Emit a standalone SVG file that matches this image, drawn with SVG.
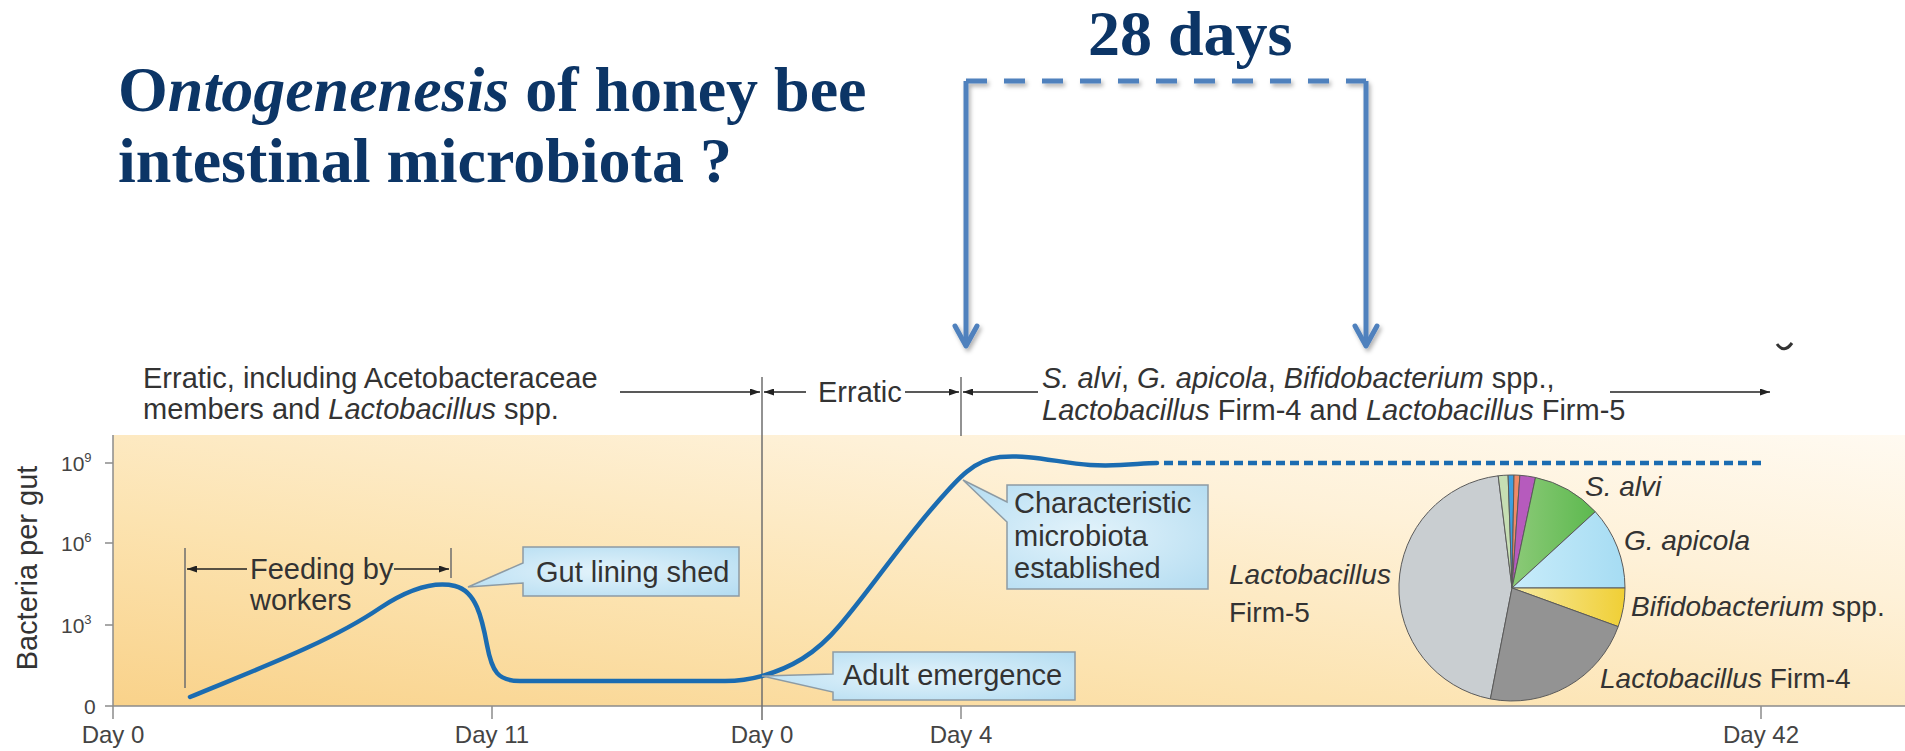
<svg xmlns="http://www.w3.org/2000/svg" width="1905" height="751" viewBox="0 0 1905 751">
<defs>
  <linearGradient id="bg" x1="0" y1="1" x2="1" y2="0">
    <stop offset="0" stop-color="#f9d28a"/>
    <stop offset="0.35" stop-color="#fce3b0"/>
    <stop offset="0.7" stop-color="#fef1d8"/>
    <stop offset="1" stop-color="#fffaf1"/>
  </linearGradient>
  <radialGradient id="callout" cx="0.5" cy="0.5" r="0.7">
    <stop offset="0" stop-color="#e3f3fb"/>
    <stop offset="1" stop-color="#b3dcf1"/>
  </radialGradient>
  <linearGradient id="yellow" x1="0" y1="0" x2="1" y2="0">
    <stop offset="0" stop-color="#f7eaa0"/>
    <stop offset="1" stop-color="#f0cf35"/>
  </linearGradient>
  <linearGradient id="lblue" x1="0" y1="0" x2="1" y2="0">
    <stop offset="0" stop-color="#c8ecfa"/>
    <stop offset="1" stop-color="#a6dcf3"/>
  </linearGradient>
  <linearGradient id="green" x1="0" y1="0" x2="1" y2="0">
    <stop offset="0" stop-color="#8cca78"/>
    <stop offset="1" stop-color="#5db94f"/>
  </linearGradient>
  <filter id="shadow" x="-10%" y="-10%" width="130%" height="130%">
    <feDropShadow dx="2" dy="3" stdDeviation="2" flood-color="#000" flood-opacity="0.3"/>
  </filter>
  <marker id="ah" viewBox="0 0 10 7" refX="10" refY="3.5" markerWidth="10" markerHeight="7" markerUnits="userSpaceOnUse" orient="auto">
    <path d="M0,0 L10,3.5 L0,7 Z" fill="#222"/>
  </marker>
  <marker id="chev" viewBox="-26 -15 30 30" refX="0" refY="0" markerWidth="30" markerHeight="30" markerUnits="userSpaceOnUse" orient="auto">
    <path d="M-20,-11 L0,0 L-20,11" fill="none" stroke="#4f81bd" stroke-width="5" stroke-linecap="round" stroke-linejoin="round"/>
  </marker>
  <style>
    .title{font-family:"Liberation Serif","Times New Roman",serif;font-weight:bold;font-size:64px;fill:#0c3566}
    .lbl{font-family:"Liberation Sans",Arial,sans-serif;font-size:29px;fill:#333}
    .pie{font-family:"Liberation Sans",Arial,sans-serif;font-size:28px;fill:#333}
    .tick{font-family:"Liberation Sans",Arial,sans-serif;font-size:24px;fill:#444}
    .ytick{font-family:"Liberation Sans",Arial,sans-serif;font-size:21px;fill:#444}
    .axis{stroke:#8c8c8c;stroke-width:1.5;fill:none}
    .vline{stroke:#6e6e6e;stroke-width:1.5;fill:none}
    .arr{stroke:#222;stroke-width:1.6;fill:none;marker-end:url(#ah)}
    .blue{stroke:#4f81bd;stroke-width:5;fill:none}
    .box{fill:url(#callout);stroke:#8d9ba4;stroke-width:1.5}
    .slice{stroke:#5a5a5a;stroke-width:1}
    .curve{stroke:#1b6cb1;stroke-width:4.5;fill:none;stroke-linecap:round;stroke-linejoin:round}
  </style>
</defs>

<rect width="1905" height="751" fill="#ffffff"/>

<g id="title">
  <text class="title" x="118" y="111">O<tspan font-style="italic">ntogenenesis</tspan> of honey bee</text>
  <text class="title" x="118" y="182">intestinal microbiota ?</text>
</g>

<g id="days-label">
  <text class="title" x="1088" y="55" font-size="62">28 days</text>
</g>

<g id="chart-bg">
  <rect x="113" y="435" width="1792" height="271" fill="url(#bg)"/>
</g>

<g id="axes">
  <path class="axis" d="M113,435 L113,706 L1905,706"/>
  <path class="axis" d="M105,463 L113,463 M105,543 L113,543 M105,625 L113,625 M105,706 L113,706"/>
  <path class="axis" d="M113,706 L113,719 M492,706 L492,719 M961,706 L961,719 M1761,706 L1761,719"/>
  <text class="ytick" x="61" y="471">10<tspan font-size="13" dy="-9">9</tspan></text>
  <text class="ytick" x="61" y="551">10<tspan font-size="13" dy="-9">6</tspan></text>
  <text class="ytick" x="61" y="633">10<tspan font-size="13" dy="-9">3</tspan></text>
  <text class="ytick" x="84" y="714">0</text>
  <text class="lbl" text-anchor="middle" transform="translate(37,568) rotate(-90)">Bacteria per gut</text>
  <text class="tick" x="113" y="743" text-anchor="middle">Day 0</text>
  <text class="tick" x="492" y="743" text-anchor="middle">Day 11</text>
  <text class="tick" x="762" y="743" text-anchor="middle">Day 0</text>
  <text class="tick" x="961" y="743" text-anchor="middle">Day 4</text>
  <text class="tick" x="1761" y="743" text-anchor="middle">Day 42</text>
</g>

<g id="phase-annotations">
  <path class="vline" d="M762,377 L762,720"/>
  <path class="vline" d="M961,377 L961,436"/>
  <text class="lbl" x="143" y="388">Erratic, including Acetobacteraceae</text>
  <text class="lbl" x="143" y="419">members and <tspan font-style="italic">Lactobacillus</tspan> spp.</text>
  <text class="lbl" x="818" y="402">Erratic</text>
  <text class="lbl" x="1042" y="388"><tspan font-style="italic">S. alvi</tspan>, <tspan font-style="italic">G. apicola</tspan>, <tspan font-style="italic">Bifidobacterium</tspan> spp.,</text>
  <text class="lbl" x="1042" y="420"><tspan font-style="italic">Lactobacillus</tspan> Firm-4 and <tspan font-style="italic">Lactobacillus</tspan> Firm-5</text>
  <path d="M1777,344 Q1784,354 1792,343" fill="none" stroke="#333" stroke-width="3"/>
</g>

<g id="feeding">
  <path class="vline" d="M185,548 L185,688 M451,548 L451,578"/>
  <text class="lbl" x="250" y="579">Feeding by</text>
  <text class="lbl" x="250" y="610">workers</text>
</g>

<g id="connectors">
  <path class="arr" d="M620,392 L760,392"/>
  <path class="arr" d="M806,392 L764,392"/>
  <path class="arr" d="M905,392 L959,392"/>
  <path class="arr" d="M1038,392 L963,392"/>
  <path class="arr" d="M1610,392 L1770,392"/>
  <path class="arr" d="M247,569 L187,569"/>
  <path class="arr" d="M394,569 L449,569"/>
  <g filter="url(#shadow)">
    <path class="blue" d="M966,81 L1366,81" stroke-dasharray="21 17"/>
    <path class="blue" d="M966,81 L966,346" marker-end="url(#chev)"/>
    <path class="blue" d="M1366,81 L1366,346" marker-end="url(#chev)"/>
  </g>
</g>

<g id="curve">
  <path class="curve" d="M190,697 C260,668 330,642 380,608 C415,585 438,582 455,586 C476,591 482,618 487,645 C492,672 498,681 520,681 L725,681 C745,681 755,678 762,676 C790,668 815,655 840,625 C870,590 900,545 935,505 C955,482 972,460 1000,457 C1030,454 1060,463 1090,465 C1120,467 1140,463 1157,463"/>
  <path d="M1164,463 L1762,463" stroke="#1b6cb1" stroke-width="4.5" stroke-dasharray="9 5" fill="none"/>
</g>

<g id="callout-gut">
  <path class="box" d="M523,547 L739,547 L739,596 L523,596 L523,583 L468,587 L523,563 Z"/>
  <text class="lbl" x="536" y="582">Gut lining shed</text>
</g>

<g id="callout-adult">
  <path class="box" d="M833,652 L1075,652 L1075,700 L833,700 L833,692 L762,676 L833,674 Z"/>
  <text class="lbl" x="843" y="685">Adult emergence</text>
</g>

<g id="callout-characteristic">
  <path class="box" d="M1007,485 L1208,485 L1208,589 L1007,589 L1007,522 L963,480 L1007,502 Z"/>
  <text class="lbl" x="1014" y="513">Characteristic</text>
  <text class="lbl" x="1014" y="546">microbiota</text>
  <text class="lbl" x="1014" y="578">established</text>
</g>

<g id="pie">
  <path class="slice" fill="#c9ced1" d="M1512,588 L1490.4,698.9 A113,113 0 0 1 1498.2,475.8 Z"/>
  <path class="slice" fill="#c6deb3" d="M1512,588 L1498.2,475.8 A113,113 0 0 1 1508.1,475.1 Z"/>
  <path class="slice" fill="#3d9fe0" d="M1512,588 L1508.1,475.1 A113,113 0 0 1 1514.0,475.0 Z"/>
  <path class="slice" fill="#f08a66" d="M1512,588 L1514.0,475.0 A113,113 0 0 1 1519.9,475.3 Z"/>
  <path class="slice" fill="#b65bbd" d="M1512,588 L1519.9,475.3 A113,113 0 0 1 1535.5,477.5 Z"/>
  <path class="slice" fill="url(#green)" d="M1512,588 L1535.5,477.5 A113,113 0 0 1 1595.3,511.7 Z"/>
  <path class="slice" fill="url(#lblue)" d="M1512,588 L1595.3,511.7 A113,113 0 0 1 1625,588 Z"/>
  <path class="slice" fill="url(#yellow)" d="M1512,588 L1625,588 A113,113 0 0 1 1618.2,626.6 Z"/>
  <path class="slice" fill="#939393" d="M1512,588 L1618.2,626.6 A113,113 0 0 1 1490.4,698.9 Z"/>
  <text class="pie" x="1585" y="496" font-style="italic">S. alvi</text>
  <text class="pie" x="1624" y="550" font-style="italic">G. apicola</text>
  <text class="pie" x="1631" y="616"><tspan font-style="italic">Bifidobacterium</tspan> spp.</text>
  <text class="pie" x="1600" y="688"><tspan font-style="italic">Lactobacillus</tspan> Firm-4</text>
  <text class="pie" x="1229" y="584" font-style="italic">Lactobacillus</text>
  <text class="pie" x="1229" y="622">Firm-5</text>
</g>
</svg>
